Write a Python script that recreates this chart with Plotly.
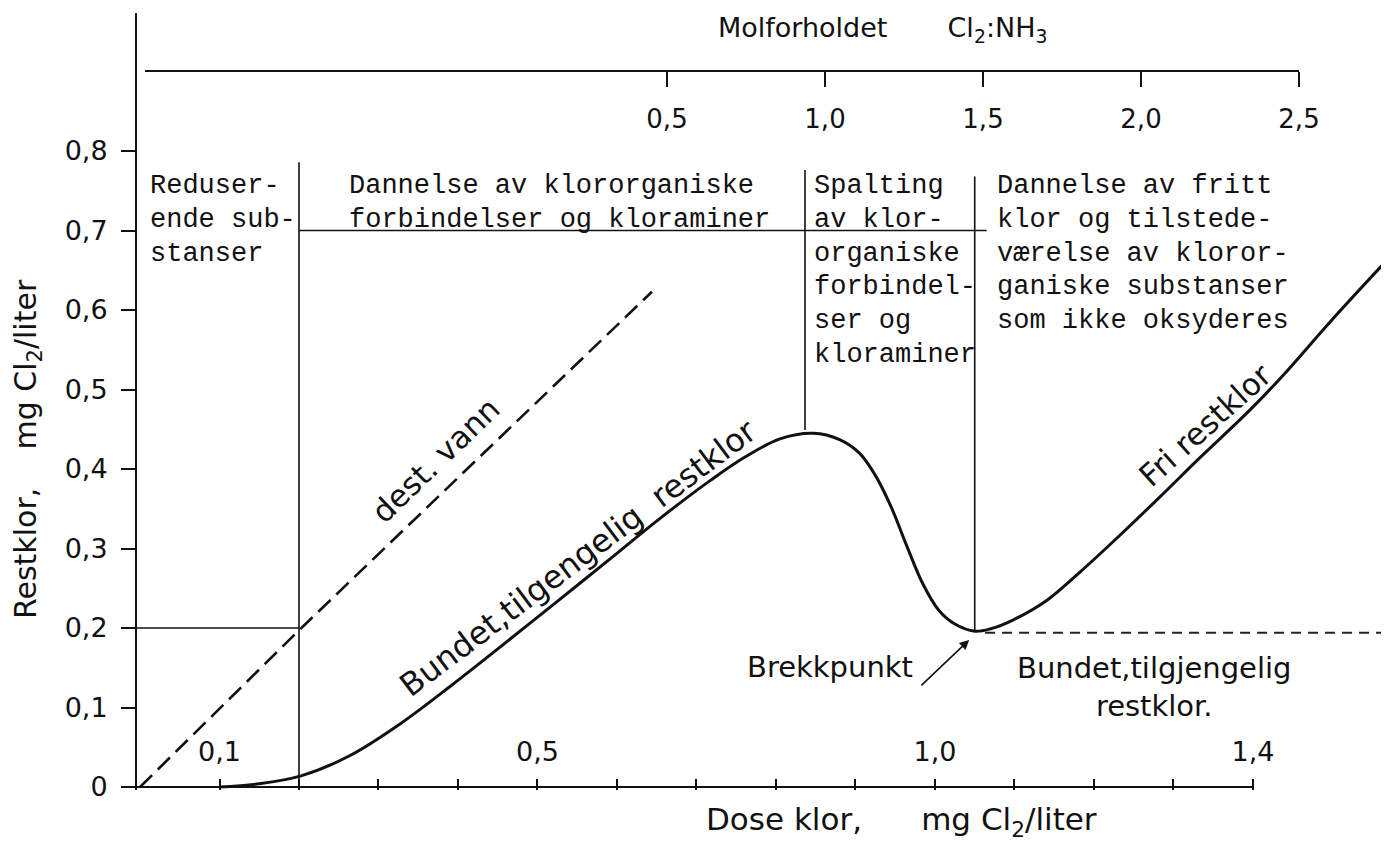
import plotly.graph_objects as go

# ---------------- data ----------------
# bottom axis: chlorine dose, mg Cl2/liter
dose_ticks = [0.1, 0.5, 1.0, 1.4]
dose_ticktext = ["0,1", "0,5", "1,0", "1,4"]
dose_minor = [0.2, 0.3, 0.4, 0.6, 0.7, 0.8, 0.9, 1.1, 1.2, 1.3]

# left axis: residual chlorine, mg Cl2/liter
rest_ticks = [0, 0.1, 0.2, 0.3, 0.4, 0.5, 0.6, 0.7, 0.8]
rest_ticktext = ["0", "0,1", "0,2", "0,3", "0,4", "0,5", "0,6", "0,7", "0,8"]

# top axis: mole ratio Cl2:NH3
ratio_ticks = [0.5, 1.0, 1.5, 2.0, 2.5]
ratio_ticktext = ["0,5", "1,0", "1,5", "2,0", "2,5"]

# solid curve: bound available residual chlorine, breakpoint, free residual chlorine
curve_dose = [0.10, 0.15, 0.2025, 0.263, 0.328, 0.392, 0.458, 0.523, 0.589, 0.653,
              0.718, 0.761, 0.805, 0.847, 0.880, 0.905, 0.925, 0.945, 0.965, 0.985,
              1.005, 1.025, 1.050, 1.070, 1.098, 1.141, 1.182, 1.233, 1.283, 1.333,
              1.396, 1.438, 1.497, 1.566]
curve_rest = [0.000, 0.004, 0.014, 0.039, 0.080, 0.128, 0.180, 0.232, 0.285, 0.337,
              0.386, 0.415, 0.438, 0.445, 0.437, 0.420, 0.392, 0.352, 0.302, 0.255,
              0.222, 0.205, 0.196, 0.199, 0.210, 0.235, 0.270, 0.317, 0.365, 0.414,
              0.474, 0.518, 0.585, 0.660]

# dashed line: distilled water
dest_dose = [0.0, 0.204, 0.644]
dest_rest = [0.0, 0.201, 0.623]

# dashed horizontal: bound available residual chlorine after breakpoint
bound_dose = [1.063, 1.571]
bound_rest = [0.194, 0.194]

# region dividers
div_x = [0.2, 0.8365, 1.050]
div_top = [0.786, 0.776, 0.768]
div_bottom = [0.0, 0.449, 0.196]
hline_y = [0.2, 0.7]
hline_x0 = [-0.02, 0.2]
hline_x1 = [0.2, 1.065]

# region texts (typewriter)
region_blocks = [
    (0.010, ["Reduser-", "ende sub-", "stanser"]),
    (0.260, ["Dannelse av klororganiske", "forbindelser og kloraminer"]),
    (0.845, ["Spalting", "av klor-", "organiske", "forbindel-", "ser og", "kloraminer"]),
    (1.076, ["Dannelse av fritt", "klor og tilstede-", "værelse av kloror-",
             "ganiske substanser", "som ikke oksyderes"]),
]
region_first_y = 0.756
region_step = 0.0425

# ---------------- geometry ----------------
# (page body has an 8 px margin, figure sized so that it ends at the window edge)
X_RANGE = [-0.00377, 1.5711]
Y_RANGE = [-0.00377, 0.9736]
X2_RANGE = [-1.1772, 2.7848]
TOP_AXIS_POS = 0.9254
TOP_LINE_X = [-1.152, 2.5]
DOSE_LABEL_POS = 0.031

INK = "#111111"
SANS = "DejaVu Sans"
MONO = "Liberation Mono"
NB = "\u00a0"

fig = go.Figure()

fig.add_trace(go.Scatter(x=dest_dose, y=dest_rest, mode="lines",
                         line=dict(color=INK, width=2.6, dash="17px,8px"),
                         hoverinfo="skip"))
fig.add_trace(go.Scatter(x=curve_dose, y=curve_rest, mode="lines",
                         line=dict(color=INK, width=3, shape="spline", smoothing=1.0),
                         hoverinfo="skip"))
fig.add_trace(go.Scatter(x=bound_dose, y=bound_rest, mode="lines",
                         line=dict(color="#222222", width=1.8, dash="10px,7px"),
                         hoverinfo="skip"))
# invisible traces carrying the top (mole ratio) axis and the dose label axis
fig.add_trace(go.Scatter(x=[ratio_ticks[0], ratio_ticks[-1]], y=[0.9, 0.9], xaxis="x2",
                         mode="markers", marker=dict(opacity=0), hoverinfo="skip"))
fig.add_trace(go.Scatter(x=[dose_ticks[0], dose_ticks[-1]], y=[0.05, 0.05], xaxis="x3",
                         mode="markers", marker=dict(opacity=0), hoverinfo="skip"))

shapes = []
for x, y0, y1 in zip(div_x, div_bottom, div_top):
    shapes.append(dict(type="line", xref="x", yref="y", x0=x, x1=x, y0=y0, y1=y1,
                       line=dict(color=INK, width=1.6)))
for y, x0, x1 in zip(hline_y, hline_x0, hline_x1):
    shapes.append(dict(type="line", xref="x", yref="y", x0=x0, x1=x1, y0=y, y1=y,
                       line=dict(color=INK, width=1.6)))
# bottom axis line (ends at 1,4)
shapes.append(dict(type="line", xref="x", yref="y", x0=-0.022, x1=dose_ticks[-1], y0=0, y1=0,
                   line=dict(color=INK, width=2)))
# top axis line
shapes.append(dict(type="line", xref="x2", yref="paper", x0=TOP_LINE_X[0], x1=TOP_LINE_X[1],
                   y0=TOP_AXIS_POS, y1=TOP_AXIS_POS, line=dict(color=INK, width=2)))

ann = []
for x, lines in region_blocks:
    for i, t in enumerate(lines):
        ann.append(dict(x=x, y=region_first_y - i * region_step, xref="x", yref="y",
                        text=t, showarrow=False, xanchor="left", yanchor="middle",
                        font=dict(family=MONO, size=27, color=INK)))

ann.append(dict(x=0.372, y=0.411, text="dest. vann", textangle=-44, showarrow=False,
                xanchor="center", yanchor="middle",
                font=dict(family=SANS, size=31, color=INK)))
ann.append(dict(x=0.551, y=0.288, text="Bundet,tilgengelig" + NB + NB + "restklor",
                textangle=-37, showarrow=False, xanchor="center", yanchor="middle",
                font=dict(family=SANS, size=32, color=INK)))
ann.append(dict(x=1.340, y=0.455, text="Fri restklor", textangle=-42, showarrow=False,
                xanchor="center", yanchor="middle",
                font=dict(family=SANS, size=31, color=INK)))
ann.append(dict(x=0.868, y=0.151, text="Brekkpunkt", showarrow=False,
                xanchor="center", yanchor="middle",
                font=dict(family=SANS, size=29, color=INK)))
ann.append(dict(x=1.043, y=0.185, ax=0.981, ay=0.126, axref="x", ayref="y", text="",
                showarrow=True, arrowhead=2, arrowsize=1.2, arrowwidth=1.6, arrowcolor=INK))
ann.append(dict(x=1.2755, y=0.126, text="Bundet,tilgjengelig<br>restklor.", showarrow=False,
                align="center", xanchor="center", yanchor="middle",
                font=dict(family=SANS, size=29, color=INK)))

# axis titles (paper coordinates)
ann.append(dict(x=0.611, y=-0.041, xref="paper", yref="paper",
                xanchor="center", yanchor="middle",
                text="Dose klor," + NB * 6 + "mg Cl<sub>2</sub>/liter",
                showarrow=False, font=dict(family=SANS, size=31, color=INK)))
ann.append(dict(x=-0.087, y=0.439, xref="paper", yref="paper", textangle=-90,
                xanchor="center", yanchor="middle",
                text="Restklor," + NB * 4 + "mg Cl<sub>2</sub>/liter",
                showarrow=False, font=dict(family=SANS, size=30, color=INK)))
ann.append(dict(x=0.596, y=1.0045, xref="paper", yref="paper",
                xanchor="center", yanchor="top",
                text="Molforholdet" + NB * 7 + "Cl<sub>2</sub>:NH<sub>3</sub>",
                showarrow=False, font=dict(family=SANS, size=27, color=INK)))

fig.update_layout(
    width=1381, height=837,
    margin=dict(l=129, r=0, t=5, b=55),
    plot_bgcolor="white", paper_bgcolor="white",
    showlegend=False,
    shapes=shapes, annotations=ann,
    xaxis=dict(range=X_RANGE, showgrid=False, zeroline=False, showline=False,
               tickmode="array", tickvals=dose_ticks, showticklabels=False,
               ticks="inside", ticklen=11, tickwidth=2, tickcolor=INK,
               minor=dict(tickmode="array", tickvals=dose_minor, ticks="inside",
                          ticklen=11, tickwidth=1.6, tickcolor=INK)),
    xaxis3=dict(range=X_RANGE, overlaying="x", anchor="free", position=DOSE_LABEL_POS,
                side="top", showgrid=False, zeroline=False, showline=False, ticks="",
                tickmode="array", tickvals=dose_ticks, ticktext=dose_ticktext,
                tickfont=dict(family=SANS, size=27, color=INK)),
    xaxis2=dict(range=X2_RANGE, overlaying="x", anchor="free", position=TOP_AXIS_POS,
                side="bottom", showgrid=False, zeroline=False, showline=False,
                tickmode="array", tickvals=ratio_ticks, ticktext=ratio_ticktext,
                ticks="outside", ticklen=15, tickwidth=2, tickcolor=INK,
                ticklabelstandoff=10,
                tickfont=dict(family=SANS, size=26, color=INK)),
    yaxis=dict(range=Y_RANGE, showgrid=False, zeroline=False,
               showline=True, linecolor=INK, linewidth=2,
               tickmode="array", tickvals=rest_ticks, ticktext=rest_ticktext,
               ticks="outside", ticklen=14, tickwidth=2, tickcolor=INK,
               ticklabelstandoff=8,
               tickfont=dict(family=SANS, size=27, color=INK)),
)

fig.write_html("out.html")
